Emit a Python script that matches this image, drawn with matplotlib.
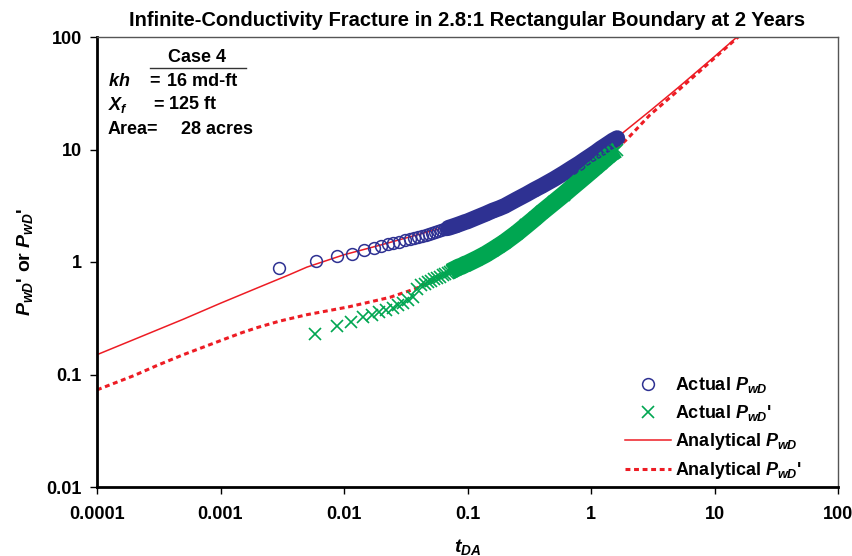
import matplotlib
matplotlib.use('Agg')
import matplotlib.pyplot as plt
from matplotlib.lines import Line2D

plt.rcParams['font.family'] = ['Liberation Sans', 'DejaVu Sans']
plt.rcParams['font.weight'] = 'bold'
plt.rcParams['mathtext.fontset'] = 'custom'
plt.rcParams['mathtext.it'] = 'Liberation Sans:bold:italic'
plt.rcParams['mathtext.rm'] = 'Liberation Sans:bold'
plt.rcParams['mathtext.bf'] = 'Liberation Sans:bold'

# --- date ---
# PwD masurat (cercuri)
t_pwd = [0.0030, 0.0059, 0.0088, 0.0117, 0.0146, 0.0174, 0.0200, 0.0226, 0.0250,
         0.028, 0.031, 0.034, 0.037, 0.040, 0.043, 0.046, 0.049, 0.052, 0.055,
         0.058, 0.061, 0.064, 0.067, 0.070, 0.075, 0.080, 0.085, 0.090, 0.095,
         0.10, 0.12, 0.14, 0.16, 0.18, 0.20, 0.25, 0.30, 0.35, 0.40, 0.50, 0.60,
         0.70, 0.80, 0.90, 1.00, 1.10, 1.20, 1.30, 1.40, 1.50, 1.63]
pwd_act = [0.88, 1.02, 1.13, 1.19, 1.29, 1.34, 1.40, 1.44, 1.48,
           1.52, 1.56, 1.60, 1.64, 1.68, 1.72, 1.75, 1.79, 1.82, 1.86,
           1.89, 1.92, 1.95, 1.98, 2.01, 2.06, 2.11, 2.16, 2.21, 2.26,
           2.30, 2.50, 2.68, 2.86, 3.00, 3.15, 3.60, 4.00, 4.40, 4.75, 5.45, 6.15,
           6.85, 7.50, 8.20, 8.85, 9.50, 10.2, 10.8, 11.4, 12.0, 12.6]

# PwD' masurat (x-uri)
t_der = [0.0058, 0.0088, 0.0115, 0.0143, 0.0168, 0.0193, 0.0219, 0.0248, 0.0275,
         0.030, 0.033, 0.036, 0.039, 0.042, 0.045, 0.048, 0.051, 0.054, 0.057,
         0.060, 0.063, 0.066, 0.069, 0.072, 0.075, 0.080, 0.085, 0.090, 0.095,
         0.10, 0.12, 0.14, 0.16, 0.18, 0.20, 0.25, 0.30, 0.35, 0.40, 0.50, 0.60,
         0.70, 0.80, 0.90, 1.00, 1.10, 1.20, 1.30, 1.40, 1.50, 1.63]
der_act = [0.229, 0.270, 0.293, 0.322, 0.338, 0.357, 0.374, 0.393, 0.415,
           0.435, 0.460, 0.490, 0.570, 0.620, 0.640, 0.660, 0.680, 0.700, 0.720,
           0.740, 0.760, 0.780, 0.800, 0.820, 0.840, 0.870, 0.900, 0.920, 0.950,
           0.97, 1.07, 1.17, 1.28, 1.39, 1.50, 1.80, 2.12, 2.44, 2.77, 3.38, 3.98,
           4.60, 5.20, 5.80, 6.40, 7.00, 7.60, 8.20, 8.80, 9.35, 9.90]

# solutia analitica
t_an = [1e-4, 2e-4, 5e-4, 1e-3, 2e-3, 3.6e-3, 5e-3, 1e-2, 2e-2, 5e-2,
        0.1, 0.2, 0.5, 1.0, 1.7, 3.0, 5.0, 10.0, 20.0]
pwd_an = [0.150, 0.205, 0.31, 0.43, 0.59, 0.77, 0.90, 1.16, 1.42, 1.88,
          2.30, 3.15, 5.4, 8.85, 13.3, 22.0, 35.0, 67.0, 130.0]

t_an_d = [1e-4, 2e-4, 3.1e-4, 5e-4, 1e-3, 1.5e-3, 2e-3, 3e-3, 5e-3, 1.1e-2, 2.35e-2,
          3.4e-2, 4.1e-2, 0.06, 0.1, 0.2, 0.5, 1.0, 1.95, 3.0, 5.0, 10.0, 20.0]
der_an = [0.073, 0.098, 0.121, 0.150, 0.200, 0.236, 0.262, 0.298, 0.340, 0.400, 0.485,
          0.556, 0.600, 0.740, 0.97, 1.50, 3.38, 6.40, 12.3, 20.3, 33.0, 65.0, 128.0]

rosu = '#ED1C24'
albastru = '#2E3192'
verde = '#00A651'

fig = plt.figure(figsize=(8.52, 5.56), dpi=100)
ax = fig.add_axes([97/852, 1-487/556, 741/852, 450/556])
ax.set_xscale('log')
ax.set_yscale('log')

# liniile analitice sub markeri
ax.plot(t_an, pwd_an, '-', color=rosu, lw=1.1, zorder=1, label='Analytical $P_{wD}$')
ax.plot(t_an_d, der_an, color=rosu, lw=2.2, ls=(0, (1.6, 1.2)), zorder=1,
        label="Analytical $P_{wD}$'")

# benzile dense de la timpi mari (markerii se suprapun complet)
n0 = t_pwd.index(0.070)
ax.plot(t_pwd[n0:], pwd_act[n0:], color=albastru, lw=11.5, solid_capstyle='round', zorder=2)
m0 = t_der.index(0.072)
ax.plot(t_der[m0:], der_act[m0:], color=verde, lw=12.5, solid_capstyle='butt', zorder=2)

ax.plot(t_pwd, pwd_act, 'o', ms=8.5, mfc='none', mec=albastru, mew=1.1, zorder=3,
        label='Actual $P_{wD}$')
ax.plot(t_der, der_act, 'x', ms=8.5, color=verde, mew=1.2, zorder=3,
        label="Actual $P_{wD}$'")

ax.set_xlim(1e-4, 100)
ax.set_ylim(0.01, 100)
ax.set_xticks([1e-4, 1e-3, 1e-2, 0.1, 1, 10, 100])
ax.set_xticklabels(['0.0001', '0.001', '0.01', '0.1', '1', '10', '100'])
ax.set_yticks([0.01, 0.1, 1, 10, 100])
ax.set_yticklabels(['0.01', '0.1', '1', '10', '100'])
ax.minorticks_off()
ax.tick_params(axis='both', direction='out', length=5, width=1, labelsize=13)
ax.tick_params(axis='x', pad=9)
ax.tick_params(axis='y', pad=6)
ax.tick_params(top=False, right=False)
for s in ['left', 'bottom']:
    ax.spines[s].set_linewidth(2)
for s in ['top', 'right']:
    ax.spines[s].set_linewidth(1)
    ax.spines[s].set_color('#555555')

ax.set_title('Infinite-Conductivity Fracture in 2.8:1 Rectangular Boundary at 2 Years',
             fontsize=14.5, fontweight='bold', pad=8)
ax.set_xlabel('$t_{DA}$', fontsize=14, labelpad=10)
ax.set_ylabel("$P_{wD}$' or $P_{wD}$'", fontsize=14, fontweight='bold', labelpad=8)

# ordinea din legenda: masurat, apoi analitic
h, l = ax.get_legend_handles_labels()
ordine = [2, 3, 0, 1]
leg = ax.legend([h[i] for i in ordine], [l[i] for i in ordine],
                loc='upper left', bbox_to_anchor=(0.69, 0.285), frameon=False,
                fontsize=13, handlelength=2.6, handletextpad=0.2, labelspacing=0.45)

# caseta cu parametrii
def ft(x, y, s, **kw):
    fig.text(x/852, 1-y/556, s, va='center', fontsize=13, fontweight='bold', **kw)

ft(197, 58, 'Case 4', ha='center')
fig.add_artist(Line2D([150/852, 246/852], [1-68/556, 1-68/556], color='#333333', lw=1))
ft(108, 81, '$kh$')
ft(154, 81, '=', ha='center')
ft(167, 81, '16 md-ft')
ft(108, 105, '$X_f$')
ft(158, 105, '=', ha='center')
ft(169, 105, '125 ft')
ft(108, 130, 'Area=')
ft(181, 130, '28 acres')

fig.savefig('out.png', dpi=100)
